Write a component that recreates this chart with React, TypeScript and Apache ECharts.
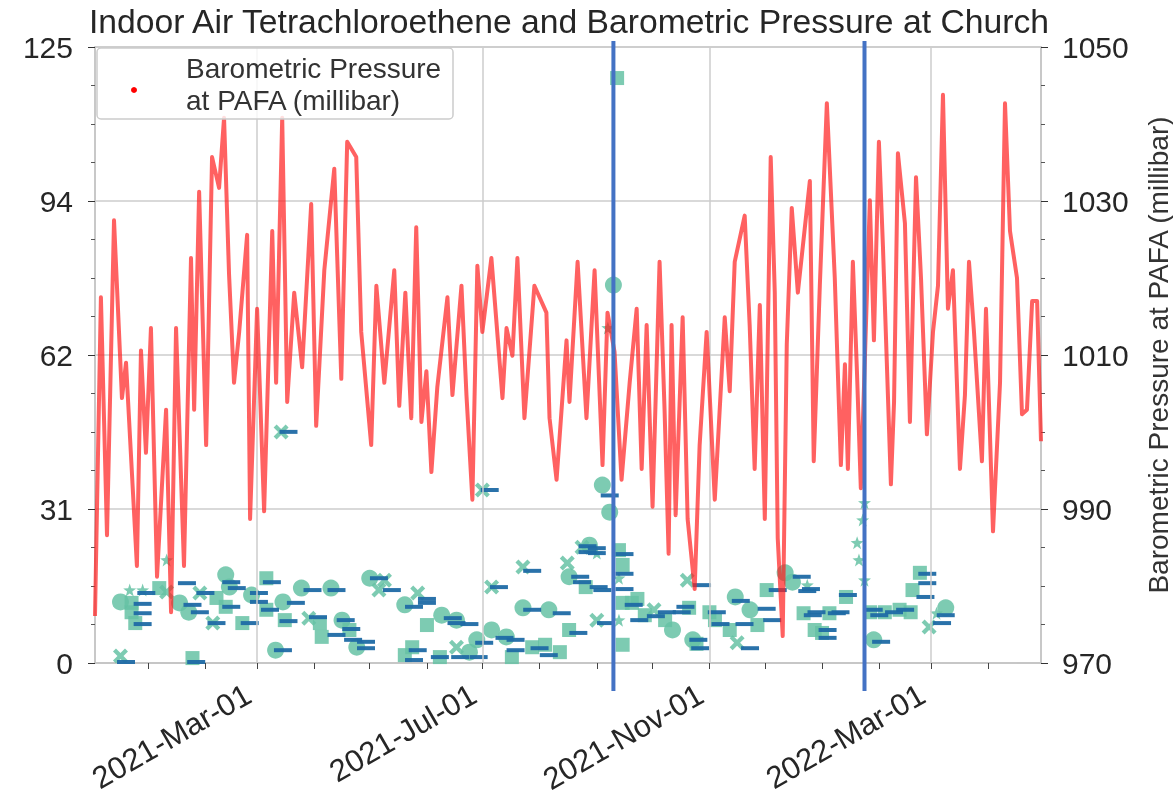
import React, { useEffect, useRef } from "react";
import * as echarts from "echarts";

// ---------- data ----------
// days are counted from 2020-12-01
const BASE_YEAR = 2020;
const BASE_MONTH = 11; // December (0-based)
const DAY_MS = 86400000;

const chartTitle = "Indoor Air Tetrachloroethene and Barometric Pressure at Church";
const pressureName = "Barometric Pressure at PAFA (millibar)";
const legendText = "Barometric Pressure\nat PAFA (millibar)";

// barometric pressure (millibar) [day, value]
const pressureSeries: [number, number][] = [
  [2.2, 976.1], [5.4, 1017.5], [8.7, 986.6], [12.5, 1027.5], [16.8, 1004.4], [19.0, 1009.0],
  [24.9, 982.6], [27.1, 1010.6], [29.8, 997.3], [32.5, 1013.5], [35.8, 981.2], [40.7, 1002.9],
  [43.4, 976.6], [46.1, 1013.5], [50.4, 982.6], [54.2, 1022.6], [55.9, 1002.9], [58.6, 1031.2],
  [62.4, 998.3], [65.6, 1035.7], [69.4, 1031.7], [72.1, 1040.8], [74.8, 1020.5], [77.5, 1006.4],
  [80.3, 1013.0], [84.6, 1025.6], [86.2, 988.7], [90.0, 1016.0], [93.8, 989.7], [98.2, 1026.1],
  [100.3, 1006.4], [103.6, 1040.8], [106.3, 1003.9], [110.1, 1018.1], [114.4, 1008.4], [119.3, 1029.6],
  [122.0, 1000.8], [126.4, 1021.0], [131.8, 1034.2], [135.6, 1006.9], [138.8, 1037.7], [143.7, 1035.7],
  [146.4, 1013.0], [151.8, 998.3], [154.6, 1019.0], [158.9, 1006.4], [164.3, 1021.0], [167.0, 1003.4],
  [170.3, 1018.1], [173.5, 1001.8], [176.2, 1026.6], [179.0, 1001.3], [181.7, 1007.9], [184.4, 994.8],
  [187.6, 1005.8], [191.4, 1013.9], [193.1, 1017.5], [195.8, 1004.8], [200.7, 1019.0], [203.4, 1004.8],
  [206.6, 991.2], [209.3, 1021.6], [212.0, 1013.0], [216.9, 1022.6], [222.9, 1004.4], [225.1, 1013.5],
  [228.3, 1009.9], [231.0, 1022.6], [234.8, 1001.8], [240.2, 1019.0], [246.7, 1015.5], [248.4, 1001.8],
  [252.2, 993.8], [257.6, 1011.9], [259.2, 1003.9], [263.6, 1022.1], [268.4, 1001.8], [272.8, 1021.0],
  [277.1, 995.7], [279.8, 1015.5], [283.6, 1010.4], [287.4, 993.8], [291.8, 1006.4], [295.6, 1016.0],
  [298.3, 995.2], [301.0, 1013.9], [304.2, 990.3], [308.0, 1022.1], [310.7, 1002.9], [312.9, 984.2],
  [314.5, 1013.9], [316.7, 989.2], [320.5, 1014.9], [323.2, 988.7], [327.0, 979.6], [329.7, 998.3],
  [333.5, 1013.0], [337.9, 991.2], [343.3, 1014.9], [346.0, 1005.3], [348.7, 1022.1], [354.1, 1028.1],
  [356.8, 1013.9], [359.5, 995.2], [362.3, 1016.5], [365.0, 988.7], [368.2, 1035.7], [370.4, 1018.1],
  [372.0, 986.2], [374.7, 973.5], [376.9, 1011.4], [379.6, 1029.1], [382.9, 1018.1], [389.4, 1032.6],
  [391.5, 996.2], [394.8, 1019.0], [398.6, 1042.7], [402.9, 1020.0], [406.2, 995.7], [408.4, 1008.8],
  [410.0, 995.2], [412.7, 1022.1], [414.9, 1007.9], [417.0, 992.7], [421.9, 1030.1], [424.1, 1011.9],
  [426.8, 1037.7], [429.0, 1024.0], [433.3, 993.2], [435.0, 1003.9], [437.1, 1036.2], [440.9, 1027.1],
  [443.6, 1001.3], [446.9, 1033.1], [449.6, 1020.0], [452.8, 999.7], [456.1, 1013.0], [458.8, 1019.0],
  [461.5, 1043.8], [464.2, 1016.0], [466.9, 1021.0], [470.7, 995.2], [473.4, 1004.8], [475.6, 1022.1],
  [478.3, 1013.0], [482.6, 996.2], [484.8, 1016.0], [488.6, 987.1], [492.4, 1006.4], [495.1, 1042.7],
  [497.8, 1026.1], [501.6, 1020.0], [504.3, 1002.3], [507.0, 1002.9], [509.8, 1017.0], [512.5, 1017.0],
  [514.6, 998.8],
];

// indoor air tetrachloroethene samples [day, value]
const pceCircles: [number, number][] = [
  [16, 12.4], [48, 12.2], [53, 10.3], [73, 17.9], [75, 15.4], [87, 13.8], [100, 2.6], [104, 12.4],
  [114, 15.2], [130, 15.2], [136, 8.7], [144, 3.2], [151, 17.2], [170, 11.8], [190, 9.7], [198, 8.7],
  [205, 2.2], [209, 4.7], [217, 6.7], [225, 5.3], [234, 11.2], [248, 10.8], [259, 17.5], [270, 23.9],
  [277, 36.1], [281, 30.6], [283, 76.7], [315, 6.7], [326, 4.7], [349, 13.4], [357, 10.8], [376, 18.3],
  [380, 16.4], [424, 4.7], [463, 11.2],
];
const pceSquares: [number, number][] = [
  [22, 12.2], [22, 10.3], [24, 8.1], [37, 15.2], [55, 1.0], [68, 13.2], [73, 11.4], [82, 8.1],
  [95, 17.2], [95, 10.8], [105, 8.7], [124, 8.1], [125, 5.3], [140, 6.7], [170, 1.6], [174, 3.2],
  [182, 7.7], [189, 1.2], [228, 1.2], [239, 3.2], [246, 3.7], [254, 2.2], [259, 6.7], [268, 15.4],
  [285, 118.7], [286, 22.9], [288, 19.9], [288, 12.2], [288, 3.7], [293, 12.2], [296, 13.0], [300, 9.7],
  [311, 8.7], [324, 11.2], [328, 3.9], [335, 10.3], [338, 8.7], [346, 6.7], [361, 7.7], [366, 14.8],
  [386, 10.1], [392, 6.7], [396, 6.1], [400, 10.1], [409, 13.4], [422, 10.3], [430, 10.3], [438, 10.8],
  [444, 10.3], [445, 14.8], [449, 18.3],
];
const pceCrosses: [number, number][] = [
  [16, 1.4], [41, 14.4], [59, 14.2], [66, 8.1], [103, 46.9], [118, 9.1], [156, 14.8], [159, 16.8],
  [177, 14.2], [198, 3.2], [212, 35.1], [217, 15.4], [234, 19.5], [258, 20.3], [266, 23.5], [274, 8.7],
  [305, 10.8], [323, 16.8], [350, 4.1], [454, 7.3],
];
const pceStars: [number, number][] = [
  [21, 14.8], [28, 14.8], [41, 20.9], [274, 22.3], [280, 68.0], [286, 17.2], [286, 8.7], [388, 15.8],
  [415, 24.4], [416, 20.9], [418, 29.0], [419, 32.5], [419, 16.8], [458, 10.1],
];
const pceDashes: [number, number][] = [
  [30, 14.2], [28, 12.0], [28, 10.1], [28, 7.9], [19, 0.2], [52, 16.2], [55, 11.8], [59, 10.3],
  [62, 14.2], [68, 8.1], [76, 16.4], [79, 15.2], [76, 11.4], [57, 0.2], [86, 8.1], [91, 14.2],
  [91, 12.4], [98, 16.4], [97, 10.8], [104, 2.6], [107, 46.9], [111, 12.2], [107, 8.5], [120, 14.8],
  [123, 9.3], [133, 5.7], [133, 14.8], [138, 8.7], [141, 6.9], [142, 4.7], [149, 4.3], [149, 3.0],
  [156, 17.2], [163, 14.8], [175, 11.4], [182, 13.0], [182, 12.2], [177, 2.6], [175, 0.6], [196, 9.1],
  [198, 8.1], [205, 7.9], [189, 1.2], [200, 1.2], [210, 1.2], [213, 4.1], [216, 35.1], [221, 15.4],
  [224, 5.1], [230, 4.7], [230, 2.6], [239, 18.7], [239, 10.8], [243, 3.0], [248, 1.6], [255, 10.1],
  [264, 6.1], [265, 17.5], [266, 16.4], [269, 23.7], [269, 22.5], [274, 23.3], [274, 22.3], [275, 15.4],
  [277, 14.8], [279, 8.1], [281, 34.0], [289, 22.1], [289, 18.1], [289, 15.0], [294, 11.8], [297, 8.7],
  [306, 9.5], [312, 10.3], [320, 10.3], [322, 11.4], [329, 4.7], [330, 3.0], [331, 15.8], [339, 10.3],
  [341, 7.9], [352, 12.6], [354, 7.9], [357, 3.0], [366, 11.0], [369, 8.7], [372, 14.8], [385, 17.5],
  [388, 14.6], [390, 15.0], [391, 9.7], [393, 10.3], [399, 6.7], [399, 5.1], [404, 10.1], [406, 10.3],
  [410, 13.8], [424, 10.8], [427, 9.7], [428, 4.3], [435, 10.3], [441, 10.8], [452, 13.4], [453, 18.1],
  [453, 16.2], [461, 8.1], [463, 9.7],
];

const leftTickLabels = ["0", "31", "62", "94", "125"];
const majorDates = ["2021-03-01", "2021-07-01", "2021-11-01", "2022-03-01"];
const eventDates = ["2021-09-10", "2022-01-24"];
const xRangeDays = [2.2, 514.6];
const monthNames = ["Jan", "Feb", "Mar", "Apr", "May", "Jun", "Jul", "Aug", "Sep", "Oct", "Nov", "Dec"];

// ---------- helpers ----------
const baseTime = new Date(BASE_YEAR, BASE_MONTH, 1).getTime();
const dayToTime = (d: number) => baseTime + d * DAY_MS;
const parseDate = (s: string) => {
  const [y, m, d] = s.split("-").map(Number);
  return new Date(y, m - 1, d).getTime();
};
const toPoints = (arr: [number, number][]) => arr.map(([d, v]) => [dayToTime(d), v]);

const monthTicks: number[] = [];
for (let i = 1; i <= 17; i++) monthTicks.push(new Date(BASE_YEAR, BASE_MONTH + i, 1).getTime());

const FONT = "'Liberation Sans', Arial, Helvetica, sans-serif";
const GREEN = "#66c2a5";
const CROSS = "path://M2,0 L5,3 L8,0 L10,2 L7,5 L10,8 L8,10 L5,7 L2,10 L0,8 L3,5 L0,2 Z";
const STAR = "path://M5,0 L6.2,3.4 L10,3.6 L7,5.9 L8.1,9.6 L5,7.4 L1.9,9.6 L3,5.9 L0,3.6 L3.8,3.4 Z";

export default function App() {
  const ref = useRef<HTMLDivElement>(null);
  useEffect(() => {
    if (!ref.current) return;
    const chart = echarts.init(ref.current, null, { renderer: "svg" });
    const greenStyle = { color: GREEN, opacity: 0.85 };
    const option: any = {
      animation: false,
      textStyle: { fontFamily: FONT },
      title: {
        text: chartTitle,
        left: 89,
        top: 4,
        padding: 0,
        textStyle: { fontSize: 33.7, fontWeight: "normal", color: "#262626", fontFamily: FONT },
      },
      grid: {
        left: 95, right: 132, top: 47, bottom: 143,
        show: true, borderColor: "#c4c4c4", borderWidth: 1.5,
        outerBoundsMode: "none",
      },
      xAxis: {
        type: "value",
        min: dayToTime(xRangeDays[0]),
        max: dayToTime(xRangeDays[1]),
        axisLine: { show: true, lineStyle: { color: "#c4c4c4", width: 1.5 } },
        axisTick: { show: true, customValues: monthTicks, length: 6, lineStyle: { color: "#444" } },
        axisLabel: {
          customValues: majorDates.map(parseDate),
          rotate: 30,
          fontSize: 31,
          color: "#262626",
          margin: 24,
          padding: [0, 10, 0, 0],
          fontFamily: FONT,
          formatter: (v: number) => {
            const d = new Date(v);
            const dd = String(d.getDate()).padStart(2, "0");
            return `${d.getFullYear()}-${monthNames[d.getMonth()]}-${dd}`;
          },
        },
        splitLine: { show: false },
      },
      yAxis: [
        {
          type: "value", min: 0, max: 125, interval: 31.25, position: "left",
          axisLine: { show: true, lineStyle: { color: "#c4c4c4", width: 1.5 } },
          axisTick: { show: true, length: 7, lineStyle: { color: "#333" } },
          minorTick: { show: true, splitNumber: 4, length: 4, lineStyle: { color: "#555" } },
          axisLabel: {
            fontSize: 30, color: "#262626", margin: 22, fontFamily: FONT,
            formatter: (v: number) => leftTickLabels[Math.round(v / 31.25)] ?? "",
          },
          splitLine: { show: true, lineStyle: { color: "#cccccc", width: 1.5 } },
        },
        {
          type: "value", min: 970, max: 1050, interval: 20, position: "right",
          name: pressureName, nameLocation: "middle", nameRotate: 90, nameGap: 103,
          nameTextStyle: { fontSize: 28, color: "#333", fontFamily: FONT },
          axisLine: { show: true, lineStyle: { color: "#c4c4c4", width: 1.5 } },
          axisTick: { show: true, length: 7, lineStyle: { color: "#333" } },
          minorTick: { show: true, splitNumber: 4, length: 4, lineStyle: { color: "#555" } },
          axisLabel: {
            fontSize: 30, color: "#262626", margin: 21, fontFamily: FONT,
            formatter: (v: number) => String(v),
          },
          splitLine: { show: false },
        },
      ],
      series: [
        {
          name: "grid", type: "line", data: [], z: 1, silent: true,
          markLine: {
            silent: true, symbol: ["none", "none"], label: { show: false },
            lineStyle: { color: "#cccccc", width: 1.5, type: "solid" },
            data: majorDates.map((s) => ({ xAxis: parseDate(s) })),
          },
        },
        { name: "circles", type: "scatter", yAxisIndex: 0, symbol: "circle", symbolSize: 17, itemStyle: greenStyle, data: toPoints(pceCircles), z: 3 },
        { name: "squares", type: "scatter", yAxisIndex: 0, symbol: "rect", symbolSize: 14, itemStyle: greenStyle, data: toPoints(pceSquares), z: 3 },
        { name: "crosses", type: "scatter", yAxisIndex: 0, symbol: CROSS, symbolSize: 15, itemStyle: greenStyle, data: toPoints(pceCrosses), z: 3 },
        { name: "stars", type: "scatter", yAxisIndex: 0, symbol: STAR, symbolSize: 13, itemStyle: greenStyle, data: toPoints(pceStars), z: 3 },
        { name: "dashes", type: "scatter", yAxisIndex: 0, symbol: "rect", symbolSize: [18, 4], itemStyle: { color: "#1f6aa5", opacity: 0.95 }, data: toPoints(pceDashes), z: 4 },
        {
          name: pressureName, type: "line", yAxisIndex: 1, showSymbol: false, z: 5,
          lineStyle: { color: "#ff1e1e", width: 4, opacity: 0.7, join: "round" },
          data: toPoints(pressureSeries),
        },
      ],
    };
    chart.setOption(option);

    const graphics: any[] = [
      {
        type: "rect", z: 20, shape: { x: 97, y: 48, width: 356, height: 71, r: 4 },
        style: { fill: "rgba(255,255,255,0.8)", stroke: "#cccccc", lineWidth: 1.5 },
      },
      { type: "circle", z: 21, shape: { cx: 134, cy: 90, r: 3 }, style: { fill: "#ff0000" } },
      {
        type: "text", z: 21, x: 186, y: 52,
        style: { text: legendText, fontSize: 28, lineHeight: 32, fill: "#333", fontFamily: FONT },
      },
    ];
    const yTop = chart.convertToPixel({ yAxisIndex: 0 }, 125) as number;
    const yBottom = chart.convertToPixel({ yAxisIndex: 0 }, 0) as number;
    eventDates.forEach((s) => {
      const x = chart.convertToPixel({ xAxisIndex: 0 }, parseDate(s)) as number;
      graphics.push({
        type: "line", z: 30,
        shape: { x1: x, y1: yTop - 6, x2: x, y2: yBottom + 28 },
        style: { stroke: "#4472c4", lineWidth: 4 },
      });
    });
    chart.setOption({ graphic: graphics });

    return () => chart.dispose();
  }, []);
  return <div ref={ref} style={{ position: "fixed", left: 0, top: 0, width: 1173, height: 806 }} />;
}
